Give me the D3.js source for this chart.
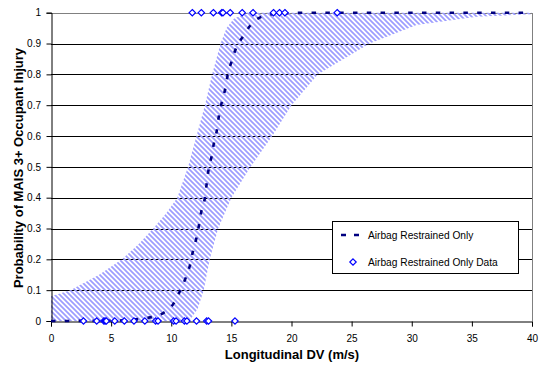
<!DOCTYPE html>
<html><head><meta charset="utf-8">
<script src="https://cdn.jsdelivr.net/npm/d3@7"></script>
<style>body{margin:0;background:#fff}text{font-family:"Liberation Sans",Arial,sans-serif}</style>
</head><body><svg id="c" width="539" height="365"></svg>
<script>
// ---- data ----
const xTicks = [0,5,10,15,20,25,30,35,40];
const yTicks = [0,0.1,0.2,0.3,0.4,0.5,0.6,0.7,0.8,0.9,1];
// fitted curve (Airbag Restrained Only)
const fitX = [0,5,8,9.3,10.2,10.7,11.2,11.55,11.8,12.1,12.3,12.5,12.8,12.95,13.1,13.35,13.55,13.8,13.96,14.2,14.5,14.7,15.0,15.4,16.0,16.6,17.6,19,22,40];
const fitY = [0,0.001,0.01,0.025,0.057,0.095,0.14,0.18,0.225,0.27,0.31,0.355,0.40,0.447,0.49,0.533,0.577,0.62,0.665,0.709,0.755,0.80,0.84,0.886,0.925,0.96,0.988,0.997,1,1];
// confidence band
const upX = [0,1.6,4,5.9,7.3,8.5,9.6,10.5,11.4,12.1,12.8,13.4,14.1,14.6,15.2,16.3,40];
const upY = [0.08,0.1,0.15,0.2,0.25,0.3,0.35,0.4,0.5,0.6,0.7,0.8,0.9,0.95,0.98,1,1];
const loX = [0,11.5,12.2,12.7,13.2,13.9,15.0,16.6,18.4,20,22.2,26.5,30.4,35.4,40];
const loY = [0,0,0.04,0.1,0.2,0.3,0.4,0.5,0.6,0.7,0.8,0.9,0.96,0.987,0.995];
// observed data (Airbag Restrained Only Data)
const dataX0 = [2.7,3.8,4.4,4.5,4.6,5.3,6.1,6.9,7.8,8.7,8.9,10.2,10.4,11.1,11.3,12.1,12.95,13.1,15.3];
const dataX1 = [11.75,12.5,13.5,14.2,14.3,14.9,15.9,16.8,18.5,19.0,19.45,23.8];
const seriesNames = ["Airbag Restrained Only","Airbag Restrained Only Data"];

// ---- chart ----
const svg = d3.select("#c");
const x = d3.scaleLinear().domain([0,40]).range([51,532]);
const y = d3.scaleLinear().domain([0,1]).range([321,12.7]);

const defs = svg.append("defs");
const pat = defs.append("pattern").attr("id","hatch").attr("patternUnits","userSpaceOnUse")
  .attr("width",5).attr("height",5);
pat.append("path").attr("d","M-1,-1L6,6M-1,4L1,6M4,-1L6,1").attr("stroke","#9d9dff").attr("stroke-width",1.7);

// gridlines
svg.append("g").selectAll("line").data(yTicks.filter(d=>d>0)).join("line")
  .attr("x1",x(0)).attr("x2",x(40)).attr("y1",d=>Math.round(y(d))+0.5).attr("y2",d=>Math.round(y(d))+0.5)
  .attr("stroke",d=>d===1?"#808080":"#000").attr("stroke-width",1);
// right border
svg.append("line").attr("x1",x(40)+0.5).attr("x2",x(40)+0.5).attr("y1",Math.round(y(1))).attr("y2",y(0))
  .attr("stroke","#808080");

// band
const bandPts = upX.map((v,i)=>[v,upY[i]]).concat(loX.map((v,i)=>[v,loY[i]]).reverse());
svg.append("path").attr("d", d3.line().x(d=>x(d[0])).y(d=>y(d[1]))(bandPts)+"Z")
  .attr("fill","url(#hatch)").attr("stroke","none");

// axes
const xAxis = d3.axisBottom(x).tickValues(xTicks).tickSize(5).tickFormat(d3.format("d"));
const gx = svg.append("g").attr("transform",`translate(0,${Math.round(y(0))+0.5})`).call(xAxis);
const yAxis = d3.axisLeft(y).tickValues(yTicks).tickSize(5).tickFormat(d=>d===0||d===1?String(d):d3.format(".1f")(d));
const gy = svg.append("g").attr("transform",`translate(${Math.round(x(0))+0.5},0)`).call(yAxis);
[gx,gy].forEach(g=>{
  g.select(".domain").attr("stroke","#000");
  g.selectAll(".tick line").attr("stroke","#000");
  g.selectAll(".tick text").attr("font-family","'Liberation Sans',Arial,sans-serif").attr("font-size",10).attr("fill","#000");
});
gx.selectAll(".tick text").attr("dy","1.2em");
gy.selectAll(".tick text").attr("dx","-0.25em");

// fitted curve
svg.append("path").attr("d", d3.line().curve(d3.curveMonotoneX).x(d=>x(d[0])).y(d=>y(d[1]))(fitX.map((v,i)=>[v,fitY[i]])))
  .attr("fill","none").attr("stroke","#000080").attr("stroke-width",2.6).attr("stroke-dasharray","4.5,9.3");

// data markers
const diamond = "M0,-3.2L3.2,0L0,3.2L-3.2,0Z";
const pts = dataX0.map(v=>[v,0]).concat(dataX1.map(v=>[v,1]));
svg.append("g").selectAll("path").data(pts).join("path")
  .attr("d",diamond).attr("transform",d=>`translate(${x(d[0])},${y(d[1])})`)
  .attr("fill","#fff").attr("stroke","#0000ff").attr("stroke-width",1.2);

// titles
svg.append("text").attr("x",292).attr("y",359).attr("text-anchor","middle")
  .attr("font-size",13).attr("font-weight","bold").text("Longitudinal DV (m/s)");
svg.append("text").attr("transform","translate(23,168) rotate(-90)").attr("text-anchor","middle")
  .attr("font-size",13).attr("font-weight","bold").text("Probability of MAIS 3+ Occupant Injury");

// legend
const lg = svg.append("g");
lg.append("rect").attr("x",332.5).attr("y",221.5).attr("width",186).attr("height",52)
  .attr("fill","#fff").attr("stroke","#000");
lg.append("line").attr("x1",341).attr("x2",363).attr("y1",235).attr("y2",235)
  .attr("stroke","#000080").attr("stroke-width",2.6).attr("stroke-dasharray","5,8");
lg.append("path").attr("d",diamond).attr("transform","translate(353,262)")
  .attr("fill","#fff").attr("stroke","#0000ff").attr("stroke-width",1.2);
lg.selectAll("text.l").data(seriesNames).join("text").attr("class","l")
  .attr("x",368).attr("y",(d,i)=>239+i*27).attr("font-size",10.2).attr("fill","#000").text(d=>d);
</script></body></html>
